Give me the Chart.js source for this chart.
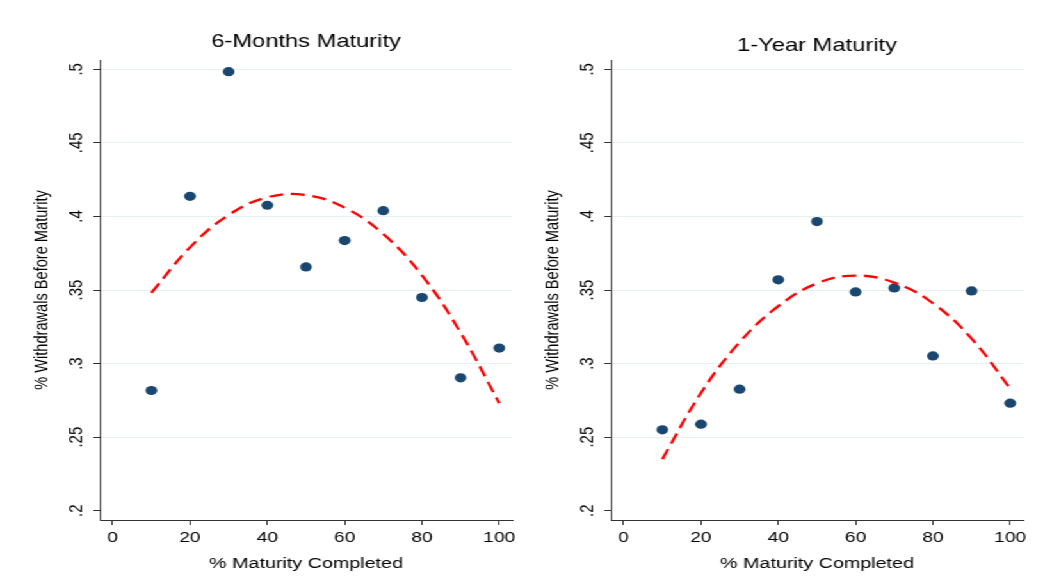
<!DOCTYPE html>
<html>
<head>
<meta charset="utf-8">
<script src="https://cdn.jsdelivr.net/npm/chart.js@4.4.1/dist/chart.umd.min.js"></script>
<style>
  html, body { margin: 0; padding: 0; background: #fff; }
  #stage { position: absolute; left: 0; top: 0; width: 816px; height: 587px; transform: scaleX(1.2806); transform-origin: 0 0; }
  #stage canvas { position: absolute; top: 0; }
  #left { left: 0; }
  #right { left: 399px; }
</style>
</head>
<body>
<div id="stage">
  <canvas id="left" width="408" height="587"></canvas>
  <canvas id="right" width="408" height="587"></canvas>
</div>
<script>
// % of maturity completed (x)
const maturityPct = [10, 20, 30, 40, 50, 60, 70, 80, 90, 100];

// share of withdrawals before maturity
const sixMonthWithdrawals = [0.2817, 0.4137, 0.4984, 0.4076, 0.3657, 0.3836, 0.4039, 0.3449, 0.2903, 0.3105];
const oneYearWithdrawals  = [0.2550, 0.2588, 0.2826, 0.3569, 0.3965, 0.3487, 0.3514, 0.3052, 0.3494, 0.2731];

// dashed quadratic fit lines at each x
const sixMonthFit = [0.348, 0.379, 0.401, 0.413, 0.4145, 0.406, 0.388, 0.360, 0.321, 0.273];
const oneYearFit  = [0.235, 0.280, 0.3145, 0.339, 0.3545, 0.3598, 0.355, 0.341, 0.317, 0.283];

// axis ticks
const xTicks = [0, 20, 40, 60, 80, 100];
const yTicks = [0.2, 0.25, 0.3, 0.35, 0.4, 0.45, 0.5];
const yTickLabels = ['.2', '.25', '.3', '.35', '.4', '.45', '.5'];

const FONT = "'Liberation Sans', Arial, Helvetica, sans-serif";
const NAVY = '#1a476f';
const AXIS = '#333333';

// panel title centred over the plot region
const panelTitle = {
    id: 'panelTitle',
    afterDraw(chart, args, opts) {
        const { ctx, chartArea } = chart;
        ctx.save();
        ctx.font = '18.5px ' + FONT;
        ctx.fillStyle = '#000';
        ctx.textAlign = 'center';
        ctx.textBaseline = 'alphabetic';
        ctx.fillText(opts.text, (chartArea.left + chartArea.right) / 2, opts.y);
        ctx.restore();
    }
};

function toPoints(ys) {
    return maturityPct.map((x, i) => ({ x: x, y: ys[i] }));
}

function makePanel(canvasId, title, titleY, dots, fit) {
    const ctx = document.getElementById(canvasId).getContext('2d');
    new Chart(ctx, {
        type: 'scatter',
        data: {
            datasets: [
                { label: 'Fitted values', data: toPoints(fit), showLine: true, borderColor: '#ff0000', borderWidth: 2.3, borderDash: [11, 6], tension: 0.4, pointRadius: 0, fill: false },
                { label: 'Withdrawals', data: toPoints(dots), backgroundColor: NAVY, borderWidth: 0, pointRadius: 4.6, pointHoverRadius: 4.6 }
            ]
        },
        options: {
            responsive: false,
            animation: false,
            events: [],
            layout: { padding: { left: 0, right: 8, top: 60, bottom: 0 } },
            plugins: {
                legend: { display: false },
                tooltip: { enabled: false },
                title: { display: false },
                panelTitle: { text: title, y: titleY }
            },
            scales: {
                x: {
                    type: 'linear', min: -3.31, max: 103.35,
                    afterBuildTicks: s => { s.ticks = xTicks.map(v => ({ value: v })); },
                    afterFit: s => { s.height = 67; },
                    ticks: { color: '#000', font: { family: FONT, size: 15 }, padding: 4, maxRotation: 0 },
                    grid: { drawOnChartArea: false, tickLength: 5, tickColor: AXIS, lineWidth: 1 },
                    border: { color: AXIS, width: 1 },
                    title: { display: true, text: '% Maturity Completed', color: '#000', font: { family: FONT, size: 15.4 }, padding: { top: 0, bottom: 14.5 } }
                },
                y: {
                    type: 'linear', min: 0.19368, max: 0.50632,
                    afterBuildTicks: s => { s.ticks = yTicks.map(v => ({ value: v })); },
                    afterFit: s => { s.width = 78; },
                    ticks: {
                        color: '#000', font: { family: FONT, size: 15 }, padding: 3,
                        minRotation: 90, maxRotation: 90, crossAlign: 'center',
                        callback: v => yTickLabels[yTicks.findIndex(t => Math.abs(t - v) < 1e-6)]
                    },
                    grid: {
                        color: c => (c.tick && Math.abs(c.tick.value - 0.2) < 1e-6) ? 'rgba(0,0,0,0)' : '#e6eff1',
                        tickLength: 5, tickColor: AXIS, lineWidth: 1
                    },
                    border: { color: AXIS, width: 1 },
                    title: { display: true, text: '% Withdrawals Before Maturity', color: '#000', font: { family: FONT, size: 14.6 }, padding: { top: 24.6, bottom: 0 } }
                }
            }
        },
        plugins: [panelTitle]
    });
}

makePanel('left', '6-Months Maturity', 46.5, sixMonthWithdrawals, sixMonthFit);
makePanel('right', '1-Year Maturity', 50.5, oneYearWithdrawals, oneYearFit);
</script>
</body>
</html>
